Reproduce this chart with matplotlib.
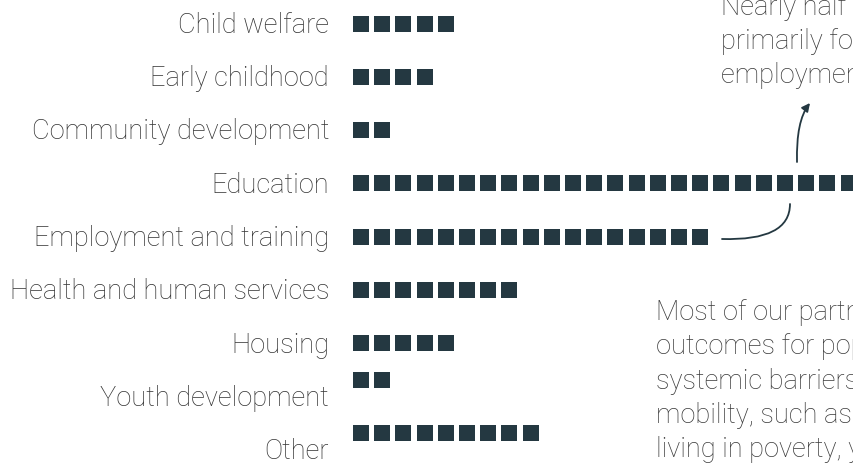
import matplotlib
matplotlib.use("Agg")
import matplotlib.pyplot as plt
from matplotlib.path import Path
from matplotlib.patches import FancyArrowPatch

# ---- data ----
categories = ["Child welfare", "Early childhood", "Community development", "Education",
              "Employment and training", "Health and human services", "Housing",
              "Youth development", "Other"]
counts = [5, 4, 2, 26, 17, 8, 5, 2, 9]

note_top = ["Nearly half of our partners work",
            "primarily focus on education and",
            "employment and training."]
note_bottom = ["Most of our partners work to improve",
               "outcomes for populations facing",
               "systemic barriers to economic",
               "mobility, such as people",
               "living in poverty, youth"]

# ---- style ----
SQ = "#243841"
TXT = "#333333"
FONT = "Roboto"
FS = 19.6
square_shift = [0, 0, 0, 0, 0, 0, 0, -0.32, -0.32]  # vertical nudge of square rows (row units)

W, H = 854, 464
fig = plt.figure(figsize=(W / 100, H / 100), dpi=100)

# main axes: x in square-index units, y in row units
ax = fig.add_axes([0, 0, 1, 1])
pitch_x, x0 = 21.2, 361.0
pitch_y, y0 = 53.3, 24.5
ax.set_xlim((0 - x0) / pitch_x, (W - x0) / pitch_x)
ax.set_ylim((H - y0) / pitch_y, (0 - y0) / pitch_y)
ax.axis("off")

side_pt = 16.8 * 72 / 100
for r, (cat, n) in enumerate(zip(categories, counts)):
    xs = list(range(n))
    ys = [r + square_shift[r]] * n
    ax.scatter(xs, ys, marker="s", s=side_pt ** 2, color=SQ, linewidths=0, clip_on=True)
    ax.text((329 - x0) / pitch_x, r + 8.3 / pitch_y, cat, ha="right", va="baseline",
            fontsize=FS, family=FONT, fontweight="light", color=TXT)

# overlay axes in pixel coordinates for notes and connectors
ov = fig.add_axes([0, 0, 1, 1])
ov.set_xlim(0, W)
ov.set_ylim(H, 0)
ov.axis("off")
ov.patch.set_alpha(0)

for i, line in enumerate(note_top):
    ov.text(721, 15 + 34 * i, line, ha="left", va="baseline", fontsize=FS,
            family=FONT, fontweight="light", color="#3a3a3a")
for i, line in enumerate(note_bottom):
    ov.text(656, 320 + 34.3 * i, line, ha="left", va="baseline", fontsize=FS,
            family=FONT, fontweight="light", color="#3a3a3a")

# curved connector from employment row
p1 = Path([(722, 240), (790, 242), (790, 205)], [Path.MOVETO, Path.CURVE3, Path.CURVE3])
ov.add_patch(FancyArrowPatch(path=p1, arrowstyle="-", color=SQ, lw=1.3))
# curved arrow up to the note
p2 = Path([(797, 163), (796, 122), (810, 104)], [Path.MOVETO, Path.CURVE3, Path.CURVE3])
ov.add_patch(FancyArrowPatch(path=p2, arrowstyle="-|>", mutation_scale=12, color=SQ, lw=1.3))

fig.savefig("out.png", dpi=100)
